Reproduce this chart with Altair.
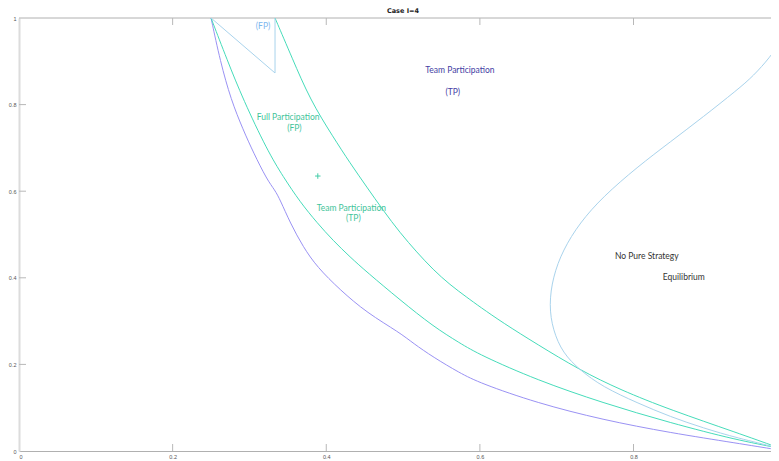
import altair as alt
import pandas as pd

# ---- data ----
purple_x = [0.25, 0.262, 0.276, 0.292, 0.305, 0.323, 0.333, 0.340, 0.353, 0.370, 0.388, 0.418,
            0.453, 0.496, 0.513, 0.539, 0.574, 0.600, 0.674, 0.760, 0.848, 0.935, 0.990, 1.0]
purple_y = [1.0, 0.900, 0.811, 0.741, 0.690, 0.626, 0.603, 0.580, 0.527, 0.471, 0.425, 0.372,
            0.319, 0.273, 0.249, 0.217, 0.180, 0.157, 0.111, 0.072, 0.042, 0.018, 0.002, 0.0]

mid_x = [0.25, 0.271, 0.292, 0.323, 0.344, 0.366, 0.388, 0.409, 0.431, 0.453, 0.496, 0.539,
         0.574, 0.600, 0.674, 0.760, 0.848, 0.935, 0.990, 1.0]
mid_y = [1.0, 0.903, 0.811, 0.695, 0.633, 0.575, 0.527, 0.486, 0.448, 0.413, 0.349, 0.288,
         0.249, 0.222, 0.164, 0.111, 0.065, 0.025, 0.007, 0.0]

up_x = [0.3333, 0.3555, 0.379, 0.409, 0.431, 0.453, 0.474, 0.496, 0.518, 0.539, 0.561, 0.583,
        0.600, 0.630, 0.674, 0.730, 0.783, 0.848, 0.935, 0.990, 1.0]
up_y = [1.0, 0.908, 0.811, 0.725, 0.665, 0.609, 0.556, 0.504, 0.459, 0.419, 0.384, 0.355,
        0.333, 0.296, 0.247, 0.187, 0.141, 0.095, 0.042, 0.007, 0.0]

npse_x = [1.0, 0.990, 0.978, 0.956, 0.935, 0.891, 0.848, 0.805, 0.760, 0.730, 0.708, 0.695,
          0.690, 0.695, 0.708, 0.730, 0.760, 0.805, 0.848, 0.891, 0.935, 0.990, 1.0]
npse_y = [0.970, 0.942, 0.910, 0.866, 0.834, 0.772, 0.714, 0.656, 0.587, 0.527, 0.464, 0.402,
          0.337, 0.279, 0.226, 0.187, 0.148, 0.111, 0.079, 0.053, 0.030, 0.007, 0.0]

tri_x = [0.25, 0.3333, 0.3333]
tri_y = [1.0, 0.873, 1.0]

plus_x = [0.389]
plus_y = [0.635]

x_ticks = [0.2, 0.4, 0.6, 0.8]
y_ticks = [0.2, 0.4, 0.6, 0.8]

lbl_fp_top = ["(FP)"]
lbl_fp_top_x = [0.3177]
lbl_fp_top_y = [0.982]

lbl_tp_blue = ["Team Participation", "(TP)"]
lbl_tp_blue_x = [0.574, 0.5647]
lbl_tp_blue_y = [0.880, 0.830]

lbl_green = ["Full Participation", "(FP)", "Team Participation", "(TP)"]
lbl_green_x = [0.3503, 0.3585, 0.4327, 0.4353]
lbl_green_y = [0.7707, 0.7453, 0.5619, 0.5374]

lbl_npse = ["No Pure Strategy", "Equilibrium"]
lbl_npse_x = [0.8173, 0.8655]
lbl_npse_y = [0.450, 0.402]

# ---- build tables ----
def curve(name, xs, ys):
    return pd.DataFrame({"x": xs, "y": ys, "s": name, "o": list(range(len(xs)))})

smooth = pd.concat([
    curve("purple", purple_x, purple_y),
    curve("mid", mid_x, mid_y),
    curve("up", up_x, up_y),
    curve("npse", npse_x, npse_y),
])
tri = curve("tri", tri_x, tri_y)

X_MAX = 0.979
xs = alt.Scale(domain=[0, X_MAX], nice=False, zero=False)
ys = alt.Scale(domain=[0, 1], nice=False, zero=False)

series_dom = ["purple", "mid", "up", "npse", "tri"]
series_col = ["#9a92f4", "#46dcba", "#46dcba", "#a9d3ec", "#a9d3ec"]
cscale = alt.Scale(domain=series_dom, range=series_col)

x_axis = alt.Axis(values=[0, 0.2, 0.4, 0.6, 0.8], format="~g", ticks=False, grid=False,
                  labelFontSize=5.5, labelColor="#555555", labelPadding=3,
                  domainColor="#b0b0b0", domainWidth=1, title=None)
y_axis = alt.Axis(values=[0, 0.2, 0.4, 0.6, 0.8, 1.0], format="~g", ticks=False, grid=False,
                  labelFontSize=5.5, labelColor="#555555", labelPadding=3,
                  domainColor="#dcdcdc", domainWidth=2, title=None)

smooth_lines = alt.Chart(smooth).mark_line(strokeWidth=1, clip=True, interpolate="basis").encode(
    x=alt.X("x:Q", scale=xs, axis=x_axis),
    y=alt.Y("y:Q", scale=ys, axis=y_axis),
    color=alt.Color("s:N", scale=cscale, legend=None),
    detail="s:N",
    order="o:Q",
)

tri_line = alt.Chart(tri).mark_line(strokeWidth=1, clip=True).encode(
    x=alt.X("x:Q", scale=xs),
    y=alt.Y("y:Q", scale=ys),
    color=alt.Color("s:N", scale=cscale, legend=None),
    order="o:Q",
)

top_line = alt.Chart(pd.DataFrame({"v": [1.0]})).mark_rule(color="#b0b0b0", strokeWidth=1).encode(
    y=alt.Y("v:Q", scale=ys)
)

tick_col = "#b8b8b8"
yt = alt.Chart(pd.DataFrame({"v": y_ticks})).mark_rule(color=tick_col, strokeWidth=1).encode(
    y=alt.Y("v:Q", scale=ys), x=alt.value(0), x2=alt.value(7)
)
xt_bottom = alt.Chart(pd.DataFrame({"v": x_ticks})).mark_rule(color=tick_col, strokeWidth=1).encode(
    x=alt.X("v:Q", scale=xs), y=alt.value(433), y2=alt.value(426)
)
xt_top = alt.Chart(pd.DataFrame({"v": x_ticks})).mark_rule(color=tick_col, strokeWidth=1).encode(
    x=alt.X("v:Q", scale=xs), y=alt.value(0), y2=alt.value(7)
)

plus = alt.Chart(pd.DataFrame({"x": plus_x, "y": plus_y})).mark_point(
    shape="M -1 0 L 1 0 M 0 -1 L 0 1", filled=False, size=30, strokeWidth=1, color="#44cca8", opacity=1
).encode(x=alt.X("x:Q", scale=xs), y=alt.Y("y:Q", scale=ys))

FONT = "Lato"

def text_layer(texts, tx, ty, color, size):
    df = pd.DataFrame({"x": tx, "y": ty, "t": texts})
    return alt.Chart(df).mark_text(font=FONT, fontSize=size, color=color, align="center",
                                   baseline="middle").encode(
        x=alt.X("x:Q", scale=xs), y=alt.Y("y:Q", scale=ys), text="t:N")

t1 = text_layer(lbl_fp_top, lbl_fp_top_x, lbl_fp_top_y, "#7db7ee", 8.5)
t2 = text_layer(lbl_tp_blue, lbl_tp_blue_x, lbl_tp_blue_y, "#4540a4", 8.5)
t3 = text_layer(lbl_green, lbl_green_x, lbl_green_y, "#3fc49a", 8.5)
t4 = text_layer(lbl_npse, lbl_npse_x, lbl_npse_y, "#333333", 8.5)

chart = alt.layer(top_line, yt, xt_bottom, xt_top, smooth_lines, tri_line, plus,
                  t1, t2, t3, t4).properties(
    width=752,
    height=433,
    title=alt.TitleParams("Case I=4", fontSize=6.5, fontWeight="bold", font="DejaVu Sans",
                          color="#222222", anchor="middle", dx=8, offset=2),
    autosize=alt.AutoSizeParams(type="none"),
    padding={"left": 11, "top": 10, "right": 0, "bottom": 10},
).configure_view(stroke=None).configure_axis(labelFont="Liberation Sans")

chart.save("out.html", embed_options={"renderer": "svg", "actions": False})
